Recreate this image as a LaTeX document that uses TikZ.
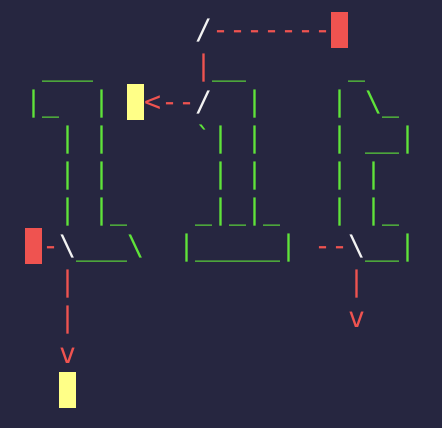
\documentclass[tikz,border=0pt]{standalone}
\usepackage{fontspec}
\setmonofont{DejaVu Sans Mono}

\definecolor{artbg}{HTML}{262640}
\definecolor{artgreen}{HTML}{5FE33A}
\definecolor{artred}{HTML}{EF5350}
\definecolor{artyellow}{HTML}{FFFF87}
\definecolor{artwhite}{HTML}{F2F2F2}

\tikzset{
  glyph/.style={anchor=base west, inner sep=0pt, outer sep=0pt, font=\ttfamily\fontsize{28.24pt}{36pt}\selectfont},
  cellbox/.style={minimum width=17pt, minimum height=36pt, inner sep=0pt, outer sep=0pt},
}

\begin{document}
\begin{tikzpicture}[x=1pt, y=1pt]

    % canvas
    \useasboundingbox (0,0) rectangle (442,-428);
    \fill[artbg] (0,0) rectangle (442,-428);

    % character grid: x = column, y = row (baseline)
    \begin{scope}[shift={(25pt,-39.3pt)}, x=17pt, y=-36pt]

    % row 0
    \node[glyph, artwhite] (r0c10) at (10,0) {/};
    \node[glyph, artred] (r0c11) at (11,0) {-------};
    \node[cellbox, fill=artred] (r0c18) at (18.5,-0.258) {};

    % row 1
    \node[glyph, artgreen] (r1c1) at (1,1) {\_\_\_};
    \node[glyph, artred] (r1c10) at (10,1) {|};
    \node[glyph, artgreen] (r1c11) at (11,1) {\_\_};
    \node[glyph, artgreen] (r1c19) at (19,1) {\_};

    % row 2
    \node[glyph, artgreen] (r2c0) at (0,2) {|\_};
    \node[glyph, artgreen] (r2c4) at (4,2) {|};
    \node[cellbox, fill=artyellow] (r2c6) at (6.5,1.742) {};
    \node[glyph, artred] (r2c7) at (7,2) {<--};
    \node[glyph, artwhite] (r2c10) at (10,2) {/};
    \node[glyph, artgreen] (r2c13) at (13,2) {|};
    \node[glyph, artgreen] (r2c18) at (18,2) {|};
    \node[glyph, artgreen] (r2c20) at (20,2) {\textbackslash\_};

    % row 3
    \node[glyph, artgreen] (r3c2) at (2,3) {|};
    \node[glyph, artgreen] (r3c4) at (4,3) {|};
    \node[glyph, artgreen] (r3c10) at (10,3) {`|};
    \node[glyph, artgreen] (r3c13) at (13,3) {|};
    \node[glyph, artgreen] (r3c18) at (18,3) {|};
    \node[glyph, artgreen] (r3c20) at (20,3) {\_\_|};

    % row 4
    \node[glyph, artgreen] (r4c2) at (2,4) {|};
    \node[glyph, artgreen] (r4c4) at (4,4) {|};
    \node[glyph, artgreen] (r4c11) at (11,4) {|};
    \node[glyph, artgreen] (r4c13) at (13,4) {|};
    \node[glyph, artgreen] (r4c18) at (18,4) {|};
    \node[glyph, artgreen] (r4c20) at (20,4) {|};

    % row 5
    \node[glyph, artgreen] (r5c2) at (2,5) {|};
    \node[glyph, artgreen] (r5c4) at (4,5) {|\_};
    \node[glyph, artgreen] (r5c10) at (10,5) {\_|\_|\_};
    \node[glyph, artgreen] (r5c18) at (18,5) {|};
    \node[glyph, artgreen] (r5c20) at (20,5) {|\_};

    % row 6
    \node[cellbox, fill=artred] (r6c0) at (0.5,5.742) {};
    \node[glyph, artred] (r6c1) at (1,6) {-};
    \node[glyph, artwhite] (r6c2) at (2,6) {\textbackslash};
    \node[glyph, artgreen] (r6c3) at (3,6) {\_\_\_\textbackslash};
    \node[glyph, artgreen] (r6c9) at (9,6) {|\_\_\_\_\_|};
    \node[glyph, artred] (r6c17) at (17,6) {--};
    \node[glyph, artwhite] (r6c19) at (19,6) {\textbackslash};
    \node[glyph, artgreen] (r6c20) at (20,6) {\_\_|};

    % rows 7 - 10
    \node[glyph, artred] (r7c2) at (2,7) {|};
    \node[glyph, artred] (r7c19) at (19,7) {|};
    \node[glyph, artred] (r8c2) at (2,8) {|};
    \node[glyph, artred] (r8c19) at (19,8) {v};
    \node[glyph, artred] (r9c2) at (2,9) {v};
    \node[cellbox, fill=artyellow] (r10c2) at (2.5,9.742) {};

    \end{scope}

\end{tikzpicture}
\end{document}
